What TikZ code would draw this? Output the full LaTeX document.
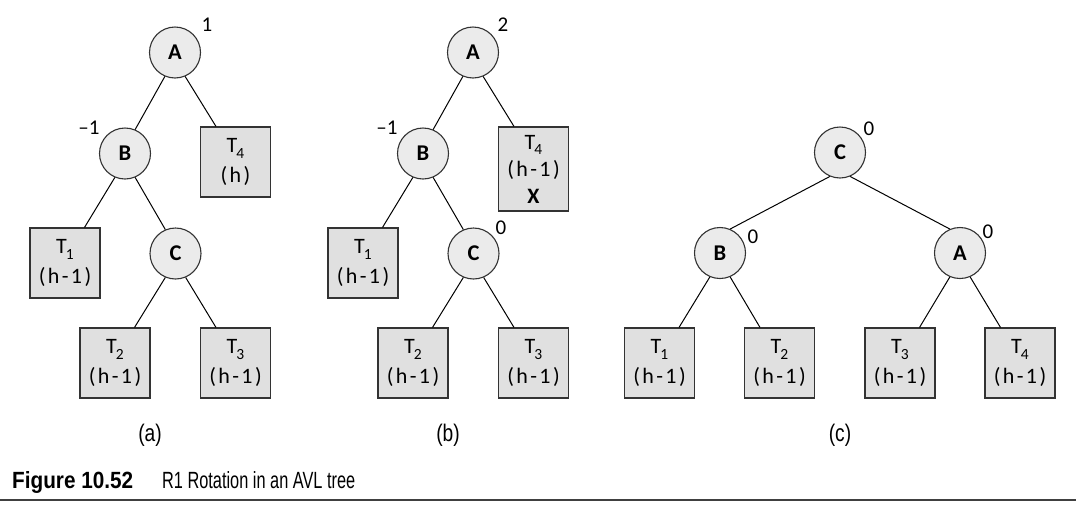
\documentclass[tikz,border=0pt]{standalone}
\usepackage{graphicx}
\usepackage{fontspec}
\setmainfont{Carlito}
\newfontfamily\capfont{Liberation Sans}
\newfontfamily\lblfont[FakeStretch=0.8]{Liberation Sans}

% subtree name with a lowered index, and a letter-spaced height line
\newcommand\subT[1]{T\kern-1pt\raisebox{-5.5pt}{\fontsize{15.5}{15.5}\selectfont #1}}
\newcommand\hgt[1]{{\addfontfeature{LetterSpace=11}#1}}

\tikzset{
  avl/.style={circle, draw=black!80, fill=black!8, line width=1.1pt,
    minimum size=51pt, inner sep=0pt, font=\fontsize{22.5}{23}\selectfont\bfseries},
  subtree/.style={rectangle, draw=black!80, fill=black!12, line width=1.1pt,
    minimum width=70pt, minimum height=70pt, inner sep=0pt, align=center,
    font=\fontsize{22}{30}\selectfont},
  tallsubtree/.style={subtree, minimum height=84pt, font=\fontsize{22}{27}\selectfont},
  bal/.style={font=\fontsize{21}{21}\selectfont, inner sep=0pt},
  panel/.style={font=\lblfont\fontsize{24}{24}\selectfont, inner sep=0pt},
  edge/.style={line width=1pt, black}
}

\begin{document}
\begin{tikzpicture}[x=1pt, y=-1pt]
\useasboundingbox (0,0) rectangle (1076,504);

% ---------- (a) ----------
\node[avl] (aA) at (175,52.5) {A};
\node[avl] (aB) at (125,153.5) {B};
\node[avl] (aC) at (175.5,253.5) {C};
\node[subtree] (aT4) at (235.5,162) {\subT{4}\\\hgt{(h)}};
\node[subtree] (aT1) at (65,263) {\subT{1}\\\hgt{(h-1)}};
\node[subtree] (aT2) at (115,363) {\subT{2}\\\hgt{(h-1)}};
\node[subtree] (aT3) at (235.5,363) {\subT{3}\\\hgt{(h-1)}};
\node[bal] (aAb) at (207,25) {1};
\node[bal] (aBb) at (89,128) {–1};
\node[panel] (alab) at (150,435) {(a)};

\draw[edge] (aA.-113) -- (aB.67);
\draw[edge] (aA.-67) -- ([xshift=-19.5pt]aT4.north);
\draw[edge] (aB.-113) -- ([xshift=19.5pt]aT1.north);
\draw[edge] (aB.-67) -- (aC.113);
\draw[edge] (aC.-113) -- ([xshift=19.5pt]aT2.north);
\draw[edge] (aC.-67) -- ([xshift=-19.5pt]aT3.north);

% ---------- (b) ----------
\node[avl] (bA) at (473,52.5) {A};
\node[avl] (bB) at (423,153.5) {B};
\node[avl] (bC) at (473.5,253.5) {C};
\node[tallsubtree] (bT4) at (533.5,169) {\subT{4}\\\hgt{(h-1)}\\\textbf{X}};
\node[subtree] (bT1) at (363,263) {\subT{1}\\\hgt{(h-1)}};
\node[subtree] (bT2) at (413,363) {\subT{2}\\\hgt{(h-1)}};
\node[subtree] (bT3) at (533.5,363) {\subT{3}\\\hgt{(h-1)}};
\node[bal] (bAb) at (503,25) {2};
\node[bal] (bBb) at (387,128) {–1};
\node[bal] (bCb) at (501,228) {0};
\node[panel] (blab) at (448,435) {(b)};

\draw[edge] (bA.-113) -- (bB.67);
\draw[edge] (bA.-67) -- ([xshift=-19.5pt]bT4.north);
\draw[edge] (bB.-113) -- ([xshift=19.5pt]bT1.north);
\draw[edge] (bB.-67) -- (bC.113);
\draw[edge] (bC.-113) -- ([xshift=19.5pt]bT2.north);
\draw[edge] (bC.-67) -- ([xshift=-19.5pt]bT3.north);

% ---------- (c) ----------
\node[avl] (cC) at (840,152.5) {C};
\node[avl] (cB) at (720,253) {B};
\node[avl] (cA) at (960,253) {A};
\node[subtree] (cT1) at (659.5,363) {\subT{1}\\\hgt{(h-1)}};
\node[subtree] (cT2) at (779.5,363) {\subT{2}\\\hgt{(h-1)}};
\node[subtree] (cT3) at (900,363) {\subT{3}\\\hgt{(h-1)}};
\node[subtree] (cT4) at (1020,363) {\subT{4}\\\hgt{(h-1)}};
\node[bal] (cCb) at (869,129) {0};
\node[bal] (cBb) at (753,237) {0};
\node[bal] (cAb) at (988,232) {0};
\node[panel] (clab) at (840,435) {(c)};

\draw[edge] (cC.-113) -- (cB.67);
\draw[edge] (cC.-67) -- (cA.113);
\draw[edge] (cB.-113) -- ([xshift=19.5pt]cT1.north);
\draw[edge] (cB.-67) -- ([xshift=-19.5pt]cT2.north);
\draw[edge] (cA.-113) -- ([xshift=19.5pt]cT3.north);
\draw[edge] (cA.-67) -- ([xshift=-19.5pt]cT4.north);

% ---------- caption and rule ----------
\node[anchor=base west, inner sep=0pt] (capnum) at (12,488)
  {\resizebox{121pt}{17pt}{\capfont\bfseries Figure 10.52}};
\node[anchor=base west, inner sep=0pt] (captxt) at (162,488)
  {\resizebox{193pt}{17pt}{\capfont R1 Rotation in an AVL tree}};
\coordinate (ruleL) at (0,500);
\coordinate (ruleR) at (1076,500);
\draw[line width=1.3pt, black!75] (ruleL) -- (ruleR);
\end{tikzpicture}
\end{document}
